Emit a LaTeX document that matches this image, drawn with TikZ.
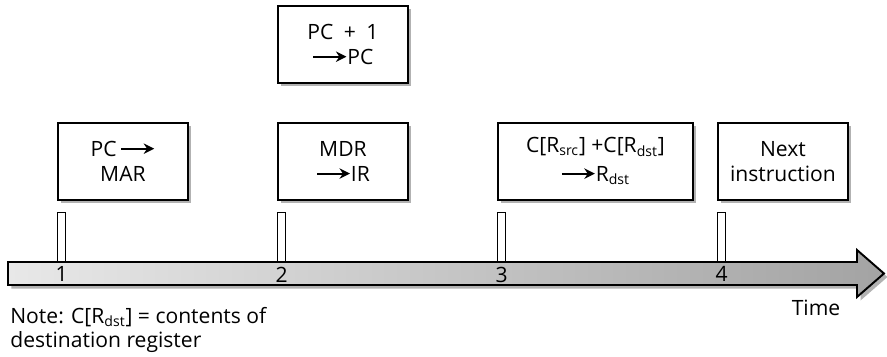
\documentclass[tikz,border=0pt]{standalone}
\usepackage{fontspec}
\setmainfont{Open Sans}
\usetikzlibrary{arrows.meta,positioning,shadows}
\tikzset{
  stepbox/.style={%
    draw,line width=1.1pt,fill=white,align=center,
    minimum width=2.6cm,
    minimum height=1.54cm,
    inner sep=2pt,
    font=\fontsize{12}{14.2}\selectfont,
    drop shadow={shadow xshift=0.07cm,shadow yshift=-0.07cm,fill=black!30,opacity=1},
  },
  tick/.style={%
    draw,line width=0.8pt,fill=white,
    minimum width=0.16cm,
    minimum height=0.98cm,
    inner sep=0pt,anchor=south west,
  },
  ticklabel/.style={%
    font=\fontsize{12}{14}\selectfont,inner sep=0pt
  },
  notelabel/.style={%
    font=\fontsize{12}{13.6}\selectfont,inner sep=0pt,align=left
  }
}
\newcommand{\regarrow}{\tikz[baseline=0pt]\draw[-{Stealth[length=6pt,width=6pt]},line width=1.1pt] (0,0.36em) -- (0.66cm,0.36em);}

\begin{document}
\begin{tikzpicture}[x=0.02cm,y=0.02cm]
\useasboundingbox (0,0) rectangle (887,356);
% time axis
\draw[line width=1.1pt,left color=black!9,right color=black!36,
  drop shadow={shadow xshift=0.07cm,shadow yshift=-0.07cm,fill=black!30,opacity=1}]
  (8,71) -- (857,71) -- (857,59) -- (884,82.5) -- (857,106) -- (857,94) -- (8,94) -- cycle;
% ticks
\node[tick] (t1) at (57,94) {};
\node[tick] (t2) at (277,94) {};
\node[tick] (t3) at (497,94) {};
\node[tick] (t4) at (717,94) {};
\node[ticklabel,below=0.09cm of t1.south] (n1) {1};
\node[ticklabel,below=0.09cm of t2.south] (n2) {2};
\node[ticklabel,below=0.09cm of t3.south] (n3) {3};
\node[ticklabel,below=0.09cm of t4.south] (n4) {4};
% steps
\node[stepbox,above right=0.22cm and 0cm of t1.north west] (fetch) {PC\,\regarrow\\MAR};
\node[stepbox,above right=0.22cm and 0cm of t2.north west] (load) {MDR\\\regarrow IR};
\node[stepbox,above=0.76cm of load] (incr) {PC\enspace+\enspace1\\\regarrow PC};
\node[stepbox,minimum width=3.9cm,above right=0.22cm and 0cm of t3.north west] (add)
  {C[R\textsubscript{src}] +C[R\textsubscript{dst}]\\[2pt]\regarrow R\textsubscript{dst}};
\node[stepbox,above right=0.22cm and 0cm of t4.north west] (next) {Next\\instruction};
% labels
\node[ticklabel,anchor=base] (time) at (816,41) {Time};
\node[notelabel,anchor=base west] (note) at (10,9)
  {Note: C[R\textsubscript{dst}] = contents of\\destination register};
\end{tikzpicture}
\end{document}
